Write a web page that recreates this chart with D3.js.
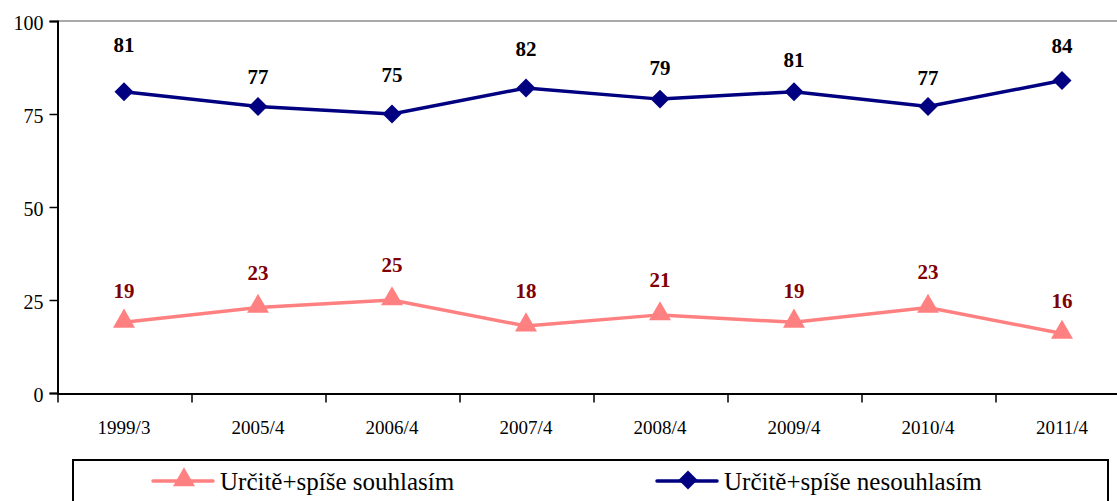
<!DOCTYPE html>
<html lang="cs">
<head>
<meta charset="utf-8">
<script src="https://d3js.org/d3.v7.min.js"></script>
<style>
  body { margin: 0; background: #fff; }
</style>
</head>
<body>
<script>
// categories and series
var categories = ["1999/3", "2005/4", "2006/4", "2007/4", "2008/4", "2009/4", "2010/4", "2011/4"];
var agree = [19, 23, 25, 18, 21, 19, 23, 16];
var disagree = [81, 77, 75, 82, 79, 81, 77, 84];
var yTicks = [0, 25, 50, 75, 100];
var seriesNames = ["Určitě+spíše souhlasím", "Určitě+spíše nesouhlasím"];

// label nudges (px above the point), as placed in the original
var agreeLabelDy = [32, 35, 35, 35, 35, 32, 36, 33];
var disagreeLabelDy = [47, 30, 39, 39, 31, 32, 29, 35];

var W = 1117, H = 501;
var margin = {top: 21, left: 57, bottom: 108};
var plotRight = 57 + 8 * 134;
var serif = "'Liberation Serif', 'Times New Roman', Times, serif";

var svg = d3.select("body").append("svg")
    .attr("width", W)
    .attr("height", H)
    .style("font-family", serif);

var x = d3.scaleBand().domain(categories).range([margin.left, plotRight]);
var y = d3.scaleLinear().domain([0, 100]).range([H - margin.bottom, margin.top]);
var cx = function(d) { return x(d) + x.bandwidth() / 2; };

// top border line
svg.append("line")
   .attr("x1", margin.left).attr("x2", plotRight)
   .attr("y1", y(100)).attr("y2", y(100))
   .attr("stroke", "#8c8c8c").attr("stroke-width", 1.5);

// y axis
var yAxis = svg.append("g")
   .attr("transform", "translate(" + (margin.left + 0.5) + ",0)")
   .call(d3.axisLeft(y).tickValues(yTicks).tickSize(8).tickPadding(6));
yAxis.attr("font-family", null).attr("font-size", null);
yAxis.select(".domain").attr("stroke", "#000").attr("stroke-width", 2);
yAxis.selectAll(".tick line").attr("stroke-width", 1.5);
yAxis.selectAll("text").style("font-size", "20px").style("font-family", serif)
   .attr("fill", "#000").attr("dy", "0.42em");

// x axis
var xAxis = svg.append("g")
   .attr("transform", "translate(0," + (y(0) + 0.5) + ")")
   .call(d3.axisBottom(x).tickSize(0).tickPadding(27));
xAxis.attr("font-family", null).attr("font-size", null);
xAxis.select(".domain").attr("stroke", "#000").attr("stroke-width", 2);
xAxis.selectAll("text").style("font-size", "19px").style("font-family", serif).attr("fill", "#000");
// tick marks between categories
xAxis.selectAll("line.sep")
   .data(categories.concat(["end"]))
   .enter().append("line")
   .attr("class", "sep")
   .attr("x1", function(d, i) { return margin.left + i * x.bandwidth() + 1; })
   .attr("x2", function(d, i) { return margin.left + i * x.bandwidth() + 1; })
   .attr("y1", 0).attr("y2", 9)
   .attr("stroke", "#000").attr("stroke-width", 1.5);

var line = d3.line()
    .x(function(d, i) { return cx(categories[i]); })
    .y(function(d) { return y(d); });

var pink = "#ff8080", navy = "#000080";
var tri = d3.symbol().type(d3.symbolTriangle).size(210);
var dia = d3.symbol().type(d3.symbolSquare).size(180);

// agree series
svg.append("path").datum(agree)
   .attr("d", line).attr("fill", "none")
   .attr("stroke", pink).attr("stroke-width", 3.5);
svg.selectAll("path.tri").data(agree).enter().append("path")
   .attr("class", "tri")
   .attr("d", tri)
   .attr("transform", function(d, i) { return "translate(" + cx(categories[i]) + "," + (y(d) - 1) + ")"; })
   .attr("fill", pink);

// disagree series
svg.append("path").datum(disagree)
   .attr("d", line).attr("fill", "none")
   .attr("stroke", navy).attr("stroke-width", 3.5);
svg.selectAll("path.dia").data(disagree).enter().append("path")
   .attr("class", "dia")
   .attr("d", dia)
   .attr("transform", function(d, i) { return "translate(" + cx(categories[i]) + "," + y(d) + ") rotate(45)"; })
   .attr("fill", navy);

// data labels
svg.selectAll("text.lab1").data(agree).enter().append("text")
   .attr("class", "lab1")
   .attr("x", function(d, i) { return cx(categories[i]); })
   .attr("y", function(d, i) { return y(d) - agreeLabelDy[i]; })
   .attr("dy", "0.35em")
   .attr("text-anchor", "middle")
   .style("font-size", "21px").style("font-weight", "bold")
   .attr("fill", "#800000")
   .text(function(d) { return d; });

svg.selectAll("text.lab2").data(disagree).enter().append("text")
   .attr("class", "lab2")
   .attr("x", function(d, i) { return cx(categories[i]); })
   .attr("y", function(d, i) { return y(d) - disagreeLabelDy[i]; })
   .attr("dy", "0.35em")
   .attr("text-anchor", "middle")
   .style("font-size", "21px").style("font-weight", "bold")
   .attr("fill", "#000")
   .text(function(d) { return d; });

// legend
var legend = svg.append("g");
legend.append("rect")
   .attr("x", 73).attr("y", 460)
   .attr("width", 1035).attr("height", 60)
   .attr("fill", "#fff").attr("stroke", "#000").attr("stroke-width", 2);

var items = [
  {name: seriesNames[0], color: pink, sym: tri, rot: "", x0: 153},
  {name: seriesNames[1], color: navy, sym: dia, rot: " rotate(45)", x0: 657}
];
var li = legend.selectAll("g.item").data(items).enter().append("g")
   .attr("class", "item")
   .attr("transform", function(d) { return "translate(" + d.x0 + ",481)"; });
li.append("line")
   .attr("x1", 0).attr("x2", 60).attr("y1", 0).attr("y2", 0)
   .attr("stroke", function(d) { return d.color; }).attr("stroke-width", 3.5)
   .attr("stroke-linecap", "round");
li.append("path")
   .attr("d", function(d) { return d.sym(); })
   .attr("transform", function(d) { return "translate(31,-1)" + d.rot; })
   .attr("fill", function(d) { return d.color; });
li.append("text")
   .attr("x", 67).attr("y", 0).attr("dy", "0.35em")
   .style("font-size", "25px").attr("fill", "#000")
   .text(function(d) { return d.name; });
</script>
</body>
</html>
